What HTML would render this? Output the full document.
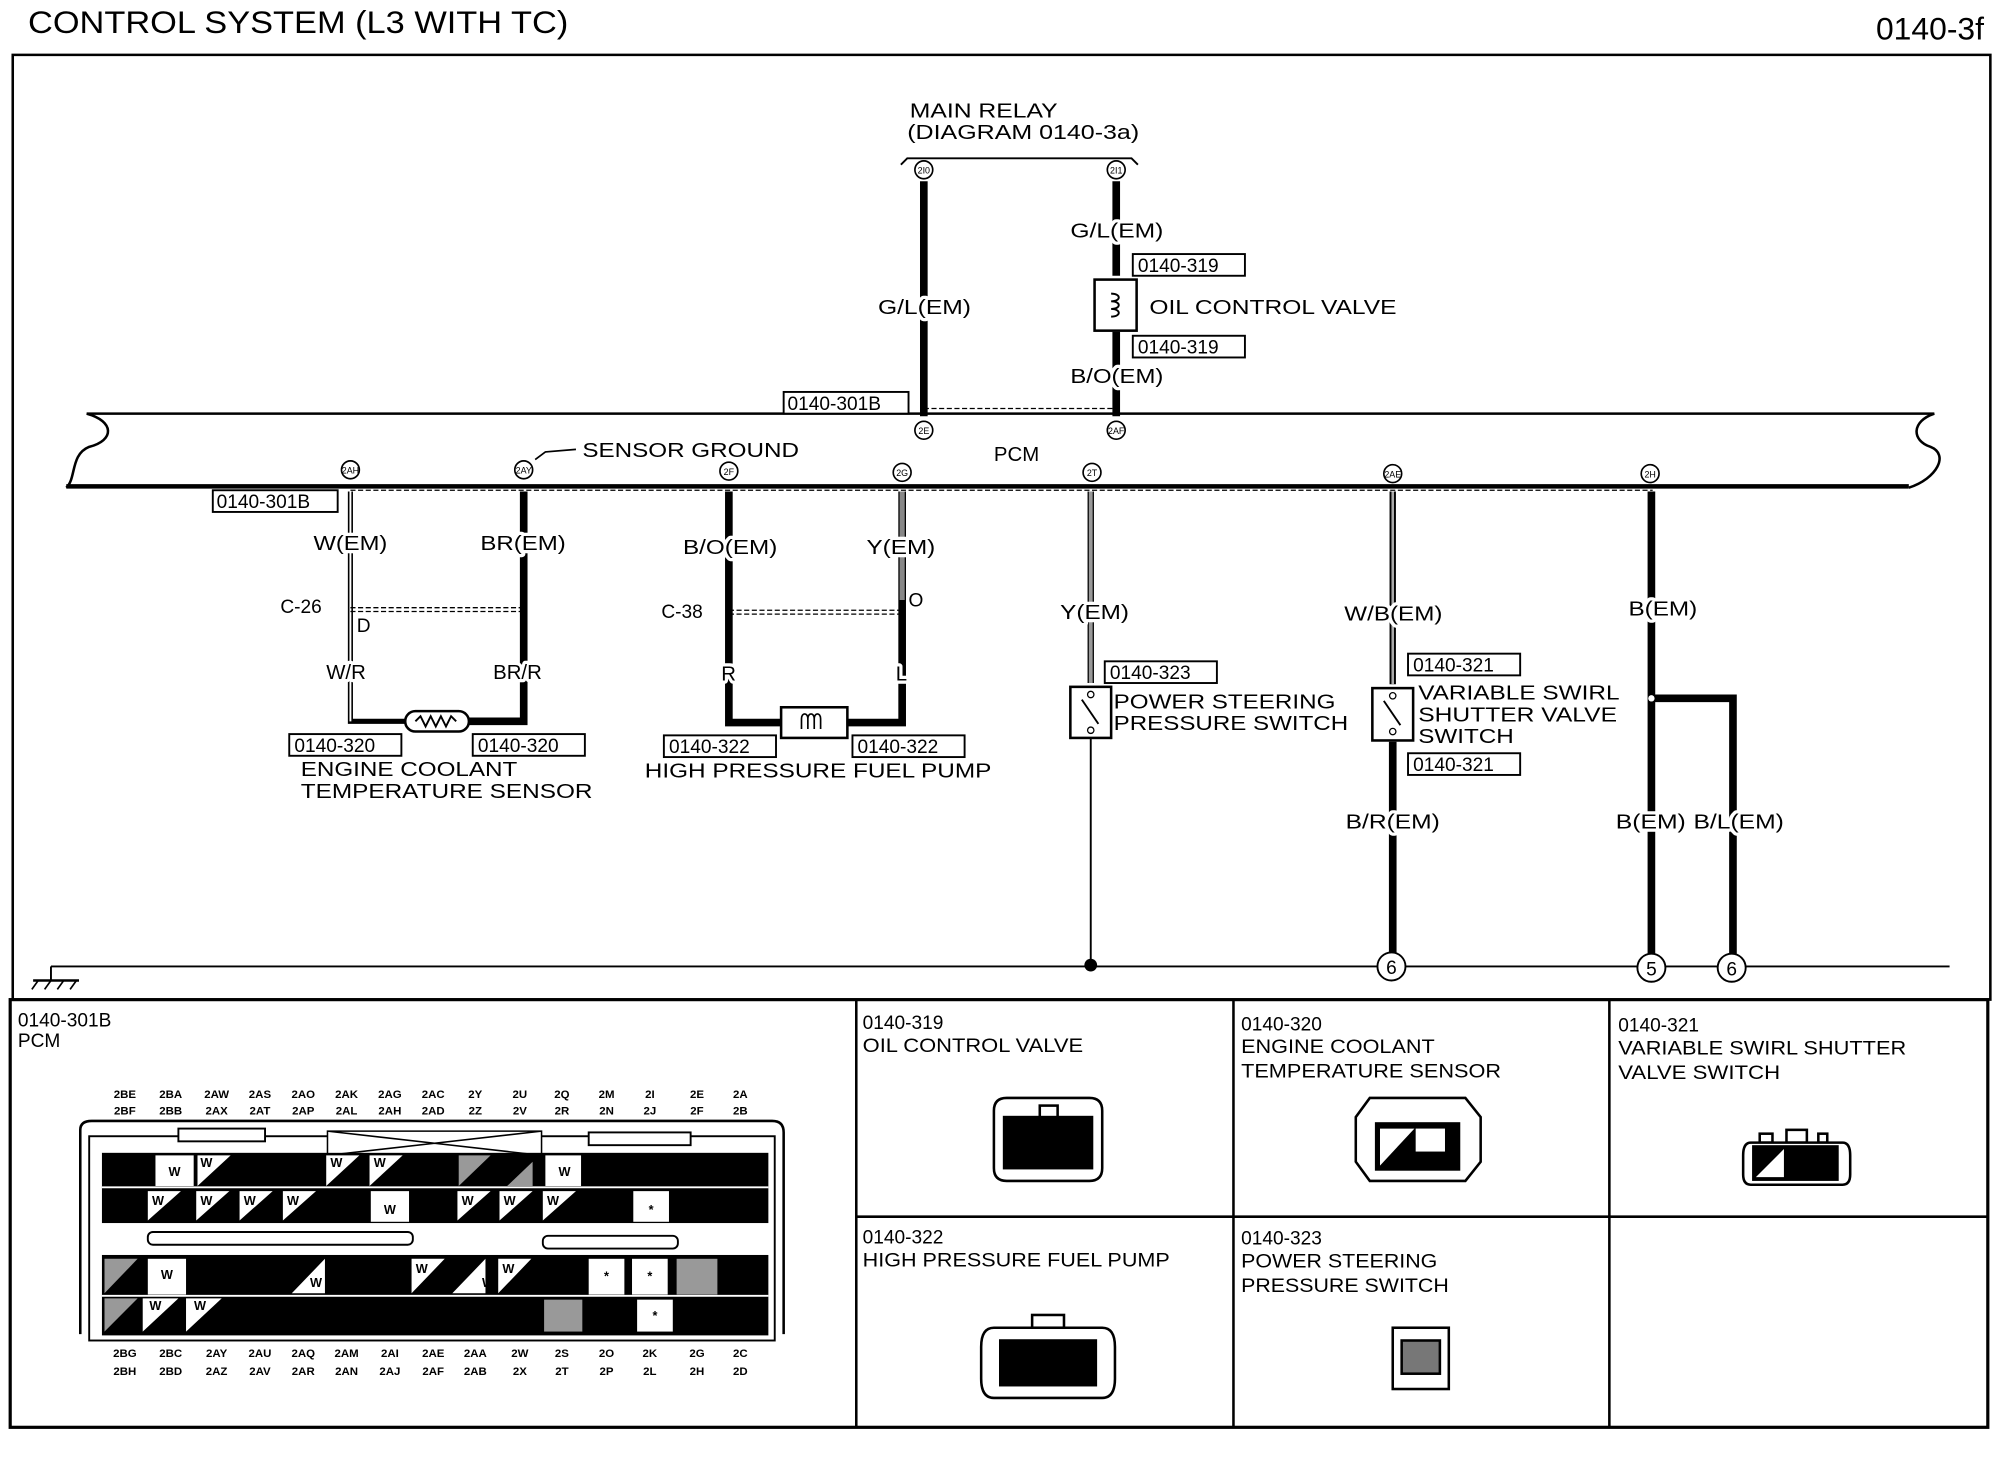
<!DOCTYPE html>
<html><head><meta charset="utf-8"><style>
html,body{margin:0;padding:0;background:#fff}
svg{display:block}
text{font-family:"Liberation Sans",Arial,sans-serif;fill:#000}
.lb{stroke:#fff;stroke-width:5;paint-order:stroke;stroke-linejoin:round}
</style></head><body>
<svg width="1998" height="1472" viewBox="0 0 1568 1153" preserveAspectRatio="none" xmlns="http://www.w3.org/2000/svg">
<rect width="1568" height="1153" fill="#fff"/>
<text x="22" y="26" font-size="25" textLength="424" lengthAdjust="spacingAndGlyphs">CONTROL SYSTEM (L3 WITH TC)</text>
<text x="1557" y="31" font-size="25" text-anchor="end">0140-3f</text>
<!-- frame -->
<path d="M10,784 V43 H1562 V784" fill="none" stroke="#000" stroke-width="2"/>
<rect x="8" y="783" width="1552" height="335" fill="none" stroke="#000" stroke-width="2.5"/>
<line x1="672" y1="783" x2="672" y2="1118" stroke="#000" stroke-width="2"/>
<line x1="968" y1="783" x2="968" y2="1118" stroke="#000" stroke-width="2"/>
<line x1="1263" y1="783" x2="1263" y2="1118" stroke="#000" stroke-width="2"/>
<line x1="672" y1="953" x2="1560" y2="953" stroke="#000" stroke-width="2"/>

<!-- PCM bus -->
<path d="M68,324 H1518 C1500,330 1500,345 1515,350 C1530,356 1520,375 1498,382" fill="none" stroke="#000" stroke-width="2"/>
<path d="M68,324 C90,330 90,345 70,350 C55,356 60,375 52,382" fill="none" stroke="#000" stroke-width="2"/>
<line x1="52" y1="381" x2="1498" y2="381" stroke="#000" stroke-width="3.5"/>
<text x="780" y="361" font-size="16">PCM</text>
<text x="457" y="358" font-size="16" textLength="170" lengthAdjust="spacingAndGlyphs">SENSOR GROUND</text>
<path d="M452,352 L428,354 L420,360" fill="none" stroke="#000" stroke-width="1.3"/>
<line x1="275" y1="384" x2="1297" y2="384" stroke="#000" stroke-width="1" stroke-dasharray="4,2"/>
<line x1="725" y1="320" x2="876" y2="320" stroke="#000" stroke-width="1" stroke-dasharray="4,2"/>

<!-- main relay -->
<text x="714" y="92" font-size="16" textLength="116" lengthAdjust="spacingAndGlyphs">MAIN RELAY</text>
<text x="712" y="109" font-size="16" textLength="182" lengthAdjust="spacingAndGlyphs">(DIAGRAM 0140-3a)</text>
<path d="M707,129 L712,124 H888 L893,129" fill="none" stroke="#000" stroke-width="1.5"/>
<g font-size="7" text-anchor="middle">
<circle cx="725" cy="133" r="7" fill="#fff" stroke="#000" stroke-width="1.3"/><text x="725" y="136">2I0</text>
<circle cx="876" cy="133" r="7" fill="#fff" stroke="#000" stroke-width="1.3"/><text x="876" y="136">2I1</text>
</g>
<line x1="725" y1="142" x2="725" y2="326" stroke="#000" stroke-width="6"/>
<line x1="876" y1="142" x2="876" y2="216" stroke="#000" stroke-width="6"/>
<line x1="876" y1="260" x2="876" y2="326" stroke="#000" stroke-width="6"/>
<rect x="859" y="219" width="33" height="40" fill="#fff" stroke="#000" stroke-width="2"/>
<path d="M872,230 c8,0 8,6 0,6 c8,0 8,6 0,6 c8,0 8,6 0,6" fill="none" stroke="#000" stroke-width="1.5"/>
<g font-size="16" class="lb">
<text x="840" y="186" textLength="73" lengthAdjust="spacingAndGlyphs">G/L(EM)</text>
<text x="689" y="246" textLength="73" lengthAdjust="spacingAndGlyphs">G/L(EM)</text>
<text x="840" y="300" textLength="73" lengthAdjust="spacingAndGlyphs">B/O(EM)</text>
<text x="902" y="246" textLength="194" lengthAdjust="spacingAndGlyphs">OIL CONTROL VALVE</text>
</g>
<g font-size="15">
<rect x="889" y="199" width="88" height="17" fill="#fff" stroke="#000" stroke-width="1.5"/><text x="893" y="213">0140-319</text>
<rect x="889" y="263" width="88" height="17" fill="#fff" stroke="#000" stroke-width="1.5"/><text x="893" y="277">0140-319</text>
<rect x="615" y="307" width="98" height="17" fill="#fff" stroke="#000" stroke-width="1.5"/><text x="618" y="321">0140-301B</text>
<rect x="167" y="384" width="98" height="17" fill="#fff" stroke="#000" stroke-width="1.5"/><text x="170" y="398">0140-301B</text>
</g>
<g font-size="7" text-anchor="middle">
<circle cx="725" cy="337" r="7" fill="#fff" stroke="#000" stroke-width="1.3"/><text x="725" y="340">2E</text>
<circle cx="876" cy="337" r="7" fill="#fff" stroke="#000" stroke-width="1.3"/><text x="876" y="340">2AF</text>
<circle cx="275" cy="368" r="7" fill="#fff" stroke="#000" stroke-width="1.3"/><text x="275" y="371">2AH</text>
<circle cx="411" cy="368" r="7" fill="#fff" stroke="#000" stroke-width="1.3"/><text x="411" y="371">2AY</text>
<circle cx="572" cy="369" r="7" fill="#fff" stroke="#000" stroke-width="1.3"/><text x="572" y="372">2F</text>
<circle cx="708" cy="370" r="7" fill="#fff" stroke="#000" stroke-width="1.3"/><text x="708" y="373">2G</text>
<circle cx="857" cy="370" r="7" fill="#fff" stroke="#000" stroke-width="1.3"/><text x="857" y="373">2T</text>
<circle cx="1093" cy="371" r="7" fill="#fff" stroke="#000" stroke-width="1.3"/><text x="1093" y="374">2AE</text>
<circle cx="1295" cy="371" r="7" fill="#fff" stroke="#000" stroke-width="1.3"/><text x="1295" y="374">2H</text>
</g>

<!-- ECT sensor wires -->
<path d="M275,385 V565 H318" fill="none" stroke="#000" stroke-width="4"/>
<path d="M275,385 V565" fill="none" stroke="#fff" stroke-width="1.5"/>
<path d="M411,385 V565 H368" fill="none" stroke="#000" stroke-width="6"/>
<rect x="318" y="557" width="50" height="16" rx="8" fill="#fff" stroke="#000" stroke-width="2"/>
<path d="M326,565 l4,-4 4,8 4,-8 4,8 4,-8 4,8 4,-8 4,4" fill="none" stroke="#000" stroke-width="1.5"/>
<line x1="275" y1="476" x2="411" y2="476" stroke="#000" stroke-dasharray="4,2"/>
<line x1="275" y1="479" x2="411" y2="479" stroke="#000" stroke-dasharray="4,2"/>
<g font-size="16" class="lb">
<text x="246" y="431" textLength="58" lengthAdjust="spacingAndGlyphs">W(EM)</text>
<text x="377" y="431" textLength="67" lengthAdjust="spacingAndGlyphs">BR(EM)</text>
<text x="220" y="480" font-size="15">C-26</text>
<text x="280" y="495" font-size="15">D</text>
<text x="256" y="532">W/R</text>
<text x="387" y="532">BR/R</text>
</g>
<g font-size="15">
<rect x="227" y="575" width="88" height="17" fill="#fff" stroke="#000" stroke-width="1.5"/><text x="231" y="589">0140-320</text>
<rect x="371" y="575" width="88" height="17" fill="#fff" stroke="#000" stroke-width="1.5"/><text x="375" y="589">0140-320</text>
<rect x="521" y="576" width="88" height="17" fill="#fff" stroke="#000" stroke-width="1.5"/><text x="525" y="590">0140-322</text>
<rect x="669" y="576" width="88" height="17" fill="#fff" stroke="#000" stroke-width="1.5"/><text x="673" y="590">0140-322</text>
<rect x="867" y="518" width="88" height="17" fill="#fff" stroke="#000" stroke-width="1.5"/><text x="871" y="532">0140-323</text>
<rect x="1105" y="512" width="88" height="17" fill="#fff" stroke="#000" stroke-width="1.5"/><text x="1109" y="526">0140-321</text>
<rect x="1105" y="590" width="88" height="17" fill="#fff" stroke="#000" stroke-width="1.5"/><text x="1109" y="604">0140-321</text>
</g>
<text x="236" y="608" font-size="16" textLength="170" lengthAdjust="spacingAndGlyphs">ENGINE COOLANT</text>
<text x="236" y="625" font-size="16" textLength="229" lengthAdjust="spacingAndGlyphs">TEMPERATURE SENSOR</text>

<!-- HP fuel pump -->
<path d="M572,385 V566 H613" fill="none" stroke="#000" stroke-width="6"/>
<path d="M708,385 V566 H665" fill="none" stroke="#000" stroke-width="6"/>
<line x1="708" y1="385" x2="708" y2="470" stroke="#888" stroke-width="4"/>
<rect x="613" y="554" width="52" height="24" fill="#fff" stroke="#000" stroke-width="2"/>
<path d="M629,571 v-8 c0,-5 5,-5 5,0 v8 M634,563 c0,-5 5,-5 5,0 v8 M639,563 c0,-5 5,-5 5,0 v8" fill="none" stroke="#000" stroke-width="1.3"/>
<line x1="572" y1="478" x2="708" y2="478" stroke="#000" stroke-dasharray="4,2"/>
<line x1="572" y1="481" x2="708" y2="481" stroke="#000" stroke-dasharray="4,2"/>
<g font-size="16" class="lb">
<text x="536" y="434" textLength="74" lengthAdjust="spacingAndGlyphs">B/O(EM)</text>
<text x="680" y="434" textLength="54" lengthAdjust="spacingAndGlyphs">Y(EM)</text>
<text x="519" y="484" font-size="15">C-38</text>
<text x="713" y="475" font-size="15">O</text>
<text x="566" y="533">R</text>
<text x="703" y="533">L</text>
</g>
<text x="506" y="609" font-size="16" textLength="272" lengthAdjust="spacingAndGlyphs">HIGH PRESSURE FUEL PUMP</text>

<!-- power steering -->
<line x1="856" y1="385" x2="856" y2="535" stroke="#000" stroke-width="5"/>
<line x1="856" y1="385" x2="856" y2="535" stroke="#999" stroke-width="3"/>
<rect x="840" y="538" width="32" height="40" fill="#fff" stroke="#000" stroke-width="2"/>
<path d="M849,548 L862,567" stroke="#000" stroke-width="1.5"/>
<circle cx="856" cy="544" r="2.5" fill="#fff" stroke="#000"/><circle cx="856" cy="572" r="2.5" fill="#fff" stroke="#000"/>
<line x1="856" y1="578" x2="856" y2="757" stroke="#000" stroke-width="1.5"/>
<text x="832" y="485" font-size="16" class="lb" textLength="54" lengthAdjust="spacingAndGlyphs">Y(EM)</text>
<text x="874" y="555" font-size="16" textLength="174" lengthAdjust="spacingAndGlyphs">POWER STEERING</text>
<text x="874" y="572" font-size="16" textLength="184" lengthAdjust="spacingAndGlyphs">PRESSURE SWITCH</text>

<!-- VSSV switch -->
<line x1="1093" y1="385" x2="1093" y2="536" stroke="#000" stroke-width="5"/>
<line x1="1093" y1="385" x2="1093" y2="536" stroke="#aaa" stroke-width="2"/>
<rect x="1077" y="539" width="32" height="41" fill="#fff" stroke="#000" stroke-width="2"/>
<path d="M1086,549 L1099,568" stroke="#000" stroke-width="1.5"/>
<circle cx="1093" cy="545" r="2.5" fill="#fff" stroke="#000"/><circle cx="1093" cy="573" r="2.5" fill="#fff" stroke="#000"/>
<line x1="1093" y1="581" x2="1093" y2="747" stroke="#000" stroke-width="6"/>
<text x="1113" y="548" font-size="16" textLength="158" lengthAdjust="spacingAndGlyphs">VARIABLE SWIRL</text>
<text x="1113" y="565" font-size="16" textLength="156" lengthAdjust="spacingAndGlyphs">SHUTTER VALVE</text>
<text x="1113" y="582" font-size="16" textLength="75" lengthAdjust="spacingAndGlyphs">SWITCH</text>

<!-- B(EM) -->
<line x1="1296" y1="385" x2="1296" y2="747" stroke="#000" stroke-width="6"/>
<path d="M1296,547 H1360 V747" fill="none" stroke="#000" stroke-width="6"/>
<circle cx="1296" cy="547" r="2.5" fill="#fff"/>
<g font-size="16" class="lb">
<text x="1055" y="486" textLength="77" lengthAdjust="spacingAndGlyphs">W/B(EM)</text>
<text x="1056" y="649" textLength="74" lengthAdjust="spacingAndGlyphs">B/R(EM)</text>
<text x="1278" y="482" textLength="54" lengthAdjust="spacingAndGlyphs">B(EM)</text>
<text x="1268" y="649" textLength="55" lengthAdjust="spacingAndGlyphs">B(EM)</text>
<text x="1329" y="649" textLength="71" lengthAdjust="spacingAndGlyphs">B/L(EM)</text>
</g>

<!-- ground -->
<line x1="40" y1="757" x2="1530" y2="757" stroke="#000" stroke-width="1.5"/>
<line x1="40" y1="757" x2="40" y2="768" stroke="#000" stroke-width="1.5"/>
<line x1="26" y1="768" x2="62" y2="768" stroke="#000" stroke-width="2"/>
<path d="M30,768 l-5,7 M40,768 l-5,7 M50,768 l-5,7 M60,768 l-5,7" stroke="#000" stroke-width="1.3"/>
<circle cx="856" cy="756" r="5" fill="#000"/>
<g font-size="15" text-anchor="middle">
<circle cx="1092" cy="757" r="11" fill="#fff" stroke="#000" stroke-width="1.5"/><text x="1092" y="763">6</text>
<circle cx="1296" cy="758" r="11" fill="#fff" stroke="#000" stroke-width="1.5"/><text x="1296" y="764">5</text>
<circle cx="1359" cy="758" r="11" fill="#fff" stroke="#000" stroke-width="1.5"/><text x="1359" y="764">6</text>
</g>

<!-- bottom panel labels -->
<g font-size="15">
<text x="14" y="804">0140-301B</text><text x="14" y="820">PCM</text>
<text x="677" y="806">0140-319</text><text x="677" y="824" textLength="173" lengthAdjust="spacingAndGlyphs">OIL CONTROL VALVE</text>
<text x="974" y="807">0140-320</text><text x="974" y="825" textLength="152" lengthAdjust="spacingAndGlyphs">ENGINE COOLANT</text><text x="974" y="844" textLength="204" lengthAdjust="spacingAndGlyphs">TEMPERATURE SENSOR</text>
<text x="1270" y="808">0140-321</text><text x="1270" y="826" textLength="226" lengthAdjust="spacingAndGlyphs">VARIABLE SWIRL SHUTTER</text><text x="1270" y="845" textLength="127" lengthAdjust="spacingAndGlyphs">VALVE SWITCH</text>
<text x="677" y="974">0140-322</text><text x="677" y="992" textLength="241" lengthAdjust="spacingAndGlyphs">HIGH PRESSURE FUEL PUMP</text>
<text x="974" y="975">0140-323</text><text x="974" y="993" textLength="154" lengthAdjust="spacingAndGlyphs">POWER STEERING</text><text x="974" y="1012" textLength="163" lengthAdjust="spacingAndGlyphs">PRESSURE SWITCH</text>
</g>

<!-- PCM connector -->
<g font-size="9" text-anchor="middle" font-weight="bold">
<text x="98" y="860">2BE</text><text x="134" y="860">2BA</text><text x="170" y="860">2AW</text><text x="204" y="860">2AS</text><text x="238" y="860">2AO</text><text x="272" y="860">2AK</text><text x="306" y="860">2AG</text><text x="340" y="860">2AC</text><text x="373" y="860">2Y</text><text x="408" y="860">2U</text><text x="441" y="860">2Q</text><text x="476" y="860">2M</text><text x="510" y="860">2I</text><text x="547" y="860">2E</text><text x="581" y="860">2A</text>
<text x="98" y="873">2BF</text><text x="134" y="873">2BB</text><text x="170" y="873">2AX</text><text x="204" y="873">2AT</text><text x="238" y="873">2AP</text><text x="272" y="873">2AL</text><text x="306" y="873">2AH</text><text x="340" y="873">2AD</text><text x="373" y="873">2Z</text><text x="408" y="873">2V</text><text x="441" y="873">2R</text><text x="476" y="873">2N</text><text x="510" y="873">2J</text><text x="547" y="873">2F</text><text x="581" y="873">2B</text>
<text x="98" y="1063">2BG</text><text x="134" y="1063">2BC</text><text x="170" y="1063">2AY</text><text x="204" y="1063">2AU</text><text x="238" y="1063">2AQ</text><text x="272" y="1063">2AM</text><text x="306" y="1063">2AI</text><text x="340" y="1063">2AE</text><text x="373" y="1063">2AA</text><text x="408" y="1063">2W</text><text x="441" y="1063">2S</text><text x="476" y="1063">2O</text><text x="510" y="1063">2K</text><text x="547" y="1063">2G</text><text x="581" y="1063">2C</text>
<text x="98" y="1077">2BH</text><text x="134" y="1077">2BD</text><text x="170" y="1077">2AZ</text><text x="204" y="1077">2AV</text><text x="238" y="1077">2AR</text><text x="272" y="1077">2AN</text><text x="306" y="1077">2AJ</text><text x="340" y="1077">2AF</text><text x="373" y="1077">2AB</text><text x="408" y="1077">2X</text><text x="441" y="1077">2T</text><text x="476" y="1077">2P</text><text x="510" y="1077">2L</text><text x="547" y="1077">2H</text><text x="581" y="1077">2D</text>
</g>
<path d="M63,1045 V885 Q63,878 72,878 H606 Q615,878 615,887 V1045" fill="none" stroke="#000" stroke-width="2"/>
<rect x="70" y="890" width="538" height="160" fill="none" stroke="#000" stroke-width="1.5"/>
<rect x="140" y="884" width="68" height="10" fill="#fff" stroke="#000" stroke-width="1.5"/>
<rect x="462" y="887" width="80" height="10" fill="#fff" stroke="#000" stroke-width="1.5"/>
<path d="M257,886 H425 V905 H257 Z M257,886 L425,905 M425,886 L257,905" fill="#fff" stroke="#000" stroke-width="1.2"/>
<rect x="80" y="903" width="523" height="55" fill="#000"/>
<rect x="80" y="983" width="523" height="63" fill="#000"/>
<line x1="80" y1="930" x2="603" y2="930" stroke="#fff" stroke-width="1.5"/>
<line x1="80" y1="1015" x2="603" y2="1015" stroke="#fff" stroke-width="1.5"/>
<rect x="116" y="965" width="208" height="10" rx="4" fill="#fff" stroke="#000" stroke-width="1.5"/>
<rect x="426" y="968" width="106" height="10" rx="4" fill="#fff" stroke="#000" stroke-width="1.5"/>
<g fill="#fff">
<rect x="122" y="905" width="30" height="24"/>
<polygon points="155,929 155,905 181,905"/>
<polygon points="256,929 256,905 282,905"/><polygon points="290,929 290,905 316,905"/>
<rect x="428" y="905" width="28" height="24"/>
<polygon points="116,956 116,933 142,933"/><polygon points="154,956 154,933 180,933"/><polygon points="188,956 188,933 214,933"/><polygon points="222,956 222,933 248,933"/>
<rect x="291" y="933" width="30" height="24"/>
<polygon points="359,956 359,933 385,933"/><polygon points="392,956 392,933 418,933"/><polygon points="426,956 426,933 452,933"/>
<rect x="497" y="933" width="28" height="24"/>
<rect x="116" y="986" width="30" height="28"/>
<polygon points="229,1013 255,986 255,1013"/>
<polygon points="323,1013 323,986 349,986"/><polygon points="355,1013 381,986 381,1013"/><polygon points="391,1013 391,986 417,986"/>
<rect x="462" y="986" width="28" height="28"/><rect x="496" y="986" width="28" height="28"/>
<polygon points="112,1043 112,1017 140,1017"/><polygon points="146,1043 146,1017 174,1017"/>
<rect x="500" y="1018" width="28" height="25"/>
</g>
<g fill="#999">
<rect x="531" y="986" width="32" height="28"/><rect x="427" y="1018" width="30" height="25"/>
<polygon points="360,905 385,905 360,929"/><polygon points="398,929 418,910 418,929"/>
<polygon points="82,1013 82,986 108,986"/><polygon points="82,1043 82,1017 108,1017"/>
</g>
<g font-size="10" font-weight="bold" text-anchor="middle">
<text x="137" y="921">W</text><text x="443" y="921">W</text><text x="306" y="951">W</text><text x="131" y="1002">W</text>
<text x="511" y="951">*</text><text x="476" y="1003">*</text><text x="510" y="1003">*</text><text x="514" y="1034">*</text>
<text x="162" y="914">W</text><text x="264" y="914">W</text><text x="298" y="914">W</text>
<text x="124" y="944">W</text><text x="162" y="944">W</text><text x="196" y="944">W</text><text x="230" y="944">W</text><text x="367" y="944">W</text><text x="400" y="944">W</text><text x="434" y="944">W</text>
<text x="331" y="997">W</text><text x="399" y="997">W</text><text x="248" y="1008">W</text><text x="383" y="1008">W</text>
<text x="122" y="1026">W</text><text x="157" y="1026">W</text>
</g>

<!-- small connectors -->
<g stroke="#000" stroke-width="2" fill="#fff">
<path d="M790,860 H855 Q865,860 865,870 V915 Q865,925 855,925 H790 Q780,925 780,915 V870 Q780,860 790,860 Z"/>
<rect x="788" y="875" width="69" height="40" fill="#000"/>
<rect x="816" y="866" width="14" height="9"/>
<path d="M1075,860 H1150 L1162,875 V910 L1150,925 H1075 L1064,910 V875 Z"/>
<rect x="1080" y="880" width="65" height="36" fill="#000"/>
<rect x="1381" y="888" width="10" height="7"/><rect x="1402" y="885" width="16" height="10"/><rect x="1427" y="888" width="7" height="7"/>
<path d="M1374,895 H1446 Q1452,895 1452,905 V920 Q1452,928 1446,928 H1374 Q1368,928 1368,920 V905 Q1368,895 1374,895 Z"/>
<rect x="1376" y="898" width="66" height="26" fill="#000"/>
<path d="M780,1040 H865 Q875,1040 875,1055 V1080 Q875,1095 865,1095 H780 Q770,1095 770,1080 V1055 Q770,1040 780,1040 Z"/>
<rect x="785" y="1050" width="75" height="35" fill="#000"/>
<rect x="810" y="1030" width="25" height="10"/>
<rect x="1093" y="1040" width="44" height="48"/>
<rect x="1100" y="1050" width="30" height="26" fill="#777"/>
</g>
<g fill="#fff"><polygon points="1378,922 1400,900 1400,922"/><polygon points="1083,913 1083,884 1110,884"/><rect x="1111" y="884" width="23" height="18"/></g>
</svg>
</body></html>
